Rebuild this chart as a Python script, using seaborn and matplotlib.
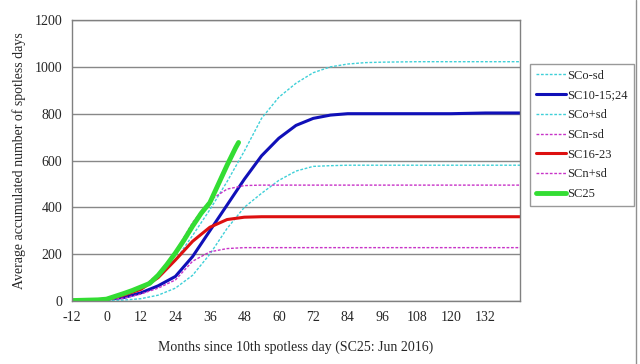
import matplotlib
matplotlib.use("Agg")
import matplotlib.pyplot as plt
import numpy as np
import pandas as pd
import seaborn as sns
from matplotlib.lines import Line2D

# months since 10th spotless day
months = [-12, -6, 0, 6, 12, 18, 24, 30, 36, 42, 48, 54, 60, 66, 72, 78, 84, 90, 96, 108, 120, 132, 144]

sco_minus = [0, 0, 2, 4, 10, 25, 55, 110, 200, 310, 400, 460, 515, 555, 575, 578, 580, 580, 580, 580, 580, 580, 580]
sc10_15_24 = [2, 3, 8, 15, 35, 65, 105, 190, 300, 410, 520, 620, 695, 750, 780, 794, 800, 800, 800, 800, 800, 803, 803]
sco_plus = [2, 3, 10, 25, 50, 100, 175, 280, 390, 510, 640, 780, 870, 930, 975, 1000, 1012, 1018, 1020, 1022, 1022, 1022, 1022]
scn_minus = [2, 3, 5, 12, 30, 55, 90, 170, 210, 224, 228, 228, 228, 228, 228, 228, 228, 228, 228, 228, 228, 228, 228]
sc16_23 = [2, 3, 8, 25, 50, 100, 175, 255, 315, 348, 358, 360, 360, 360, 360, 360, 360, 360, 360, 360, 360, 360, 360]
scn_plus = [2, 3, 10, 25, 55, 115, 210, 335, 430, 478, 493, 495, 495, 495, 495, 495, 495, 495, 495, 495, 495, 495, 495]

sc25_months = [-12, -9, -6, -3, 0, 3, 6, 9, 12, 15, 18, 21, 24, 27, 30, 33, 36, 39, 42, 45, 46]
sc25 = [2, 3, 4, 5, 8, 20, 32, 45, 60, 75, 110, 155, 205, 260, 320, 375, 420, 500, 580, 655, 677]

series = [
    ("SCo-sd", months, sco_minus, "#3fd0d8", (0, (2, 1.2)), 1.0),
    ("SC10-15;24", months, sc10_15_24, "#1010b8", "-", 2.2),
    ("SCo+sd", months, sco_plus, "#3fd0d8", (0, (2, 1.2)), 1.0),
    ("SCn-sd", months, scn_minus, "#c833c8", (0, (2, 1.2)), 1.0),
    ("SC16-23", months, sc16_23, "#dd1010", "-", 2.2),
    ("SCn+sd", months, scn_plus, "#c833c8", (0, (2, 1.2)), 1.0),
    ("SC25", sc25_months, sc25, "#33dd33", "-", 3.5),
]

sns.set_style("white")
plt.rcParams["font.family"] = ["Liberation Serif", "DejaVu Serif"]

fig = plt.figure(figsize=(6.4, 3.64), dpi=100)
ax = fig.add_axes([0.1125, 0.173, 0.7, 0.772])

for name, x, y, color, ls, lw in series:
    df = pd.DataFrame({"month": x, "days": y})
    sns.lineplot(data=df, x="month", y="days", ax=ax, color=color,
                 linestyle=ls, linewidth=lw, label=name)

ax.set_xlim(-12, 144)
ax.set_ylim(0, 1200)
ax.set_xticks(np.arange(-12, 145, 12))
ax.set_xticklabels([str(t) if t < 144 else "" for t in range(-12, 145, 12)])
ax.set_yticks(np.arange(0, 1201, 200))
ax.grid(axis="y", color="#888888", linewidth=1.0)
ax.set_axisbelow(True)
for s in ax.spines.values():
    s.set_color("#808080")
    s.set_linewidth(1.0)
ax.tick_params(axis="both", direction="out", length=4, color="#808080",
               labelsize=10, pad=3)
ax.set_xlabel("Months since 10th spotless day (SC25: Jun 2016)", fontsize=10, labelpad=12)
ax.set_ylabel("Average accumulated number of spotless days", fontsize=10, labelpad=6)

leg = ax.legend(loc="upper left", bbox_to_anchor=(0.828, 0.824),
                bbox_transform=fig.transFigure, frameon=True, fancybox=False,
                fontsize=9, handlelength=2.4, handletextpad=0.15,
                labelspacing=0.62, borderpad=0.45, borderaxespad=0)
leg.get_frame().set_edgecolor("#808080")
leg.get_frame().set_linewidth(1.0)

fig.add_artist(Line2D([0.9935, 0.9935], [0, 1], transform=fig.transFigure,
                      color="#909090", linewidth=1.0))

fig.savefig("out.png", dpi=100)
